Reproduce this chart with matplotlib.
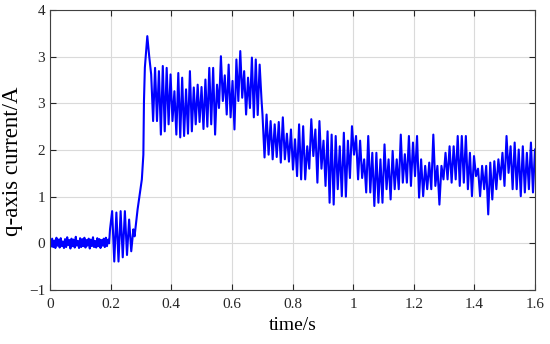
import numpy as np
import matplotlib
matplotlib.use("Agg")
import matplotlib.pyplot as plt

# q-axis current (axis units run -1..5, labelled as in the source)
base_current = [0.03, -0.07, 0.1, -0.08, 0.06, -0.1, 0.12, -0.05, 0.08, -0.09, 0.11, -0.06,
                0.04, -0.1, 0.09, -0.08, 0.13, -0.04, 0.07, -0.11, 0.1, -0.06, 0.08, -0.09,
                0.14, -0.05, 0.05, -0.1, 0.11, -0.08, 0.09, -0.06, 0.12, -0.09, 0.07, -0.05,
                0.1, -0.11, 0.08, -0.06, 0.13, -0.08, 0.05, -0.09, 0.11, -0.06, 0.09, -0.1,
                0.07, -0.05, 0.1, -0.08, 0.12, -0.06, 0.08, 0.0]
osc_current = [0.3, 0.69, -0.39, 0.66, -0.39, 0.69, -0.3, 0.69, -0.25, 0.51, -0.17, 0.3]
rise_time = [0.279, 0.289, 0.297, 0.303, 0.308, 0.310, 0.313, 0.317]
rise_current = [0.15, 0.73, 1.09, 1.37, 1.9, 3.05, 3.77, 4.1]
plateau_current = [4.44, 4.0, 3.62, 2.62, 3.76, 2.62, 3.69, 2.33, 3.8, 2.4, 3.76, 2.55, 3.62,
                   2.62, 3.26, 2.33, 3.65, 2.27, 3.55, 2.3, 3.3, 2.35, 3.69, 2.4, 3.34, 2.55,
                   3.4, 2.6, 3.35, 2.45, 3.51, 2.5, 3.76, 2.55, 3.76, 2.33, 3.4, 2.9, 4.01,
                   3.05, 3.6, 2.76, 3.83, 2.7, 3.48, 2.44, 3.94, 3.05, 4.12, 3.12, 3.69, 2.76,
                   3.55, 2.9, 3.98, 2.7, 3.94, 2.75, 3.83, 3.05]
decay_current = [2.76, 1.84, 2.76, 1.9, 2.62, 1.8, 2.55, 1.85, 2.6, 1.73, 2.7, 1.8, 2.35, 1.75,
                 2.44, 1.58, 2.23, 1.44, 2.55, 1.37, 2.51, 1.37, 2.08, 1.6, 2.66, 1.87, 2.44,
                 1.3, 2.62, 1.6, 2.2, 1.23, 2.4, 0.87, 2.33, 0.83, 2.3, 1.16, 2.08, 1.01, 2.37,
                 1.0, 2.2, 1.4, 2.51, 1.9, 2.3, 1.37, 2.2, 1.4, 1.8, 1.09,
                 2.30, 1.09, 1.94, 0.80, 1.94, 0.87, 1.80, 0.87, 2.12, 1.16, 1.80, 0.94, 1.98,
                 1.16, 1.80, 1.16, 2.33, 1.30, 1.91, 1.30, 2.30, 1.23, 2.16, 1.44, 2.30, 0.98,
                 1.80, 1.01, 1.66, 1.16, 1.73, 1.16, 2.33, 1.23, 1.66, 0.83, 1.66, 1.37, 1.94,
                 1.37,
                 2.08, 1.30, 2.08, 1.37, 2.30, 1.23, 2.30, 1.30, 2.30, 1.16, 1.94, 1.01, 1.87,
                 1.44, 1.6, 1.01, 1.66, 1.16, 1.66, 0.62, 1.73, 0.94, 1.76, 1.16, 1.80, 1.37,
                 1.94, 1.23, 2.30, 1.51, 2.08, 1.16, 2.16, 1.16, 2.01, 1.01, 2.08, 1.09, 1.94,
                 1.16, 2.16, 1.09, 2.01]

yticks = [-1, 0, 1, 2, 3, 4, 5]
ytick_labels = ["\u22121", "0", "1", "2", "3", "3", "4"]
xticks = [0, 0.2, 0.4, 0.6, 0.8, 1.0, 1.2, 1.4, 1.6]
xtick_labels = ["0", "0.2", "0.4", "0.6", "0.8", "1", "1.2", "1.4", "1.6"]

t = np.concatenate([
    np.linspace(0, 0.195, len(base_current)),
    np.linspace(0.198, 0.275, len(osc_current)),
    rise_time,
    np.linspace(0.321, 0.698, len(plateau_current)),
    np.linspace(0.701, 1.6, len(decay_current)),
])
iq = np.concatenate([base_current, osc_current, rise_current, plateau_current, decay_current])

plt.rcParams["font.family"] = ["Liberation Serif", "DejaVu Serif"]
fig = plt.figure(figsize=(5.5, 3.44), dpi=100)
ax = fig.add_axes([50 / 550, 1 - 290 / 344, 485 / 550, 280 / 344])

ax.plot(t, iq, color="#0000ff", lw=1.5)

ax.set_xlim(0, 1.6)
ax.set_ylim(-1, 5)
ax.set_xticks(xticks)
ax.set_xticklabels(xtick_labels)
ax.set_yticks(yticks)
ax.set_yticklabels(ytick_labels)
ax.grid(True, color="#dadada", lw=0.8)
ax.set_axisbelow(True)
ax.tick_params(direction="in", length=4, width=0.8, top=True, right=True,
               labelsize=11, colors="#262626")
ax.tick_params(axis="x", pad=6)
for s in ax.spines.values():
    s.set_color("#404040")
    s.set_linewidth(0.8)

ax.set_xlabel("time/s", fontsize=14, labelpad=4)
ax.set_ylabel("q-axis current/A", fontsize=16.5)
ax.yaxis.set_label_coords(-0.056, 0.46)

fig.savefig("out.png", dpi=100)
